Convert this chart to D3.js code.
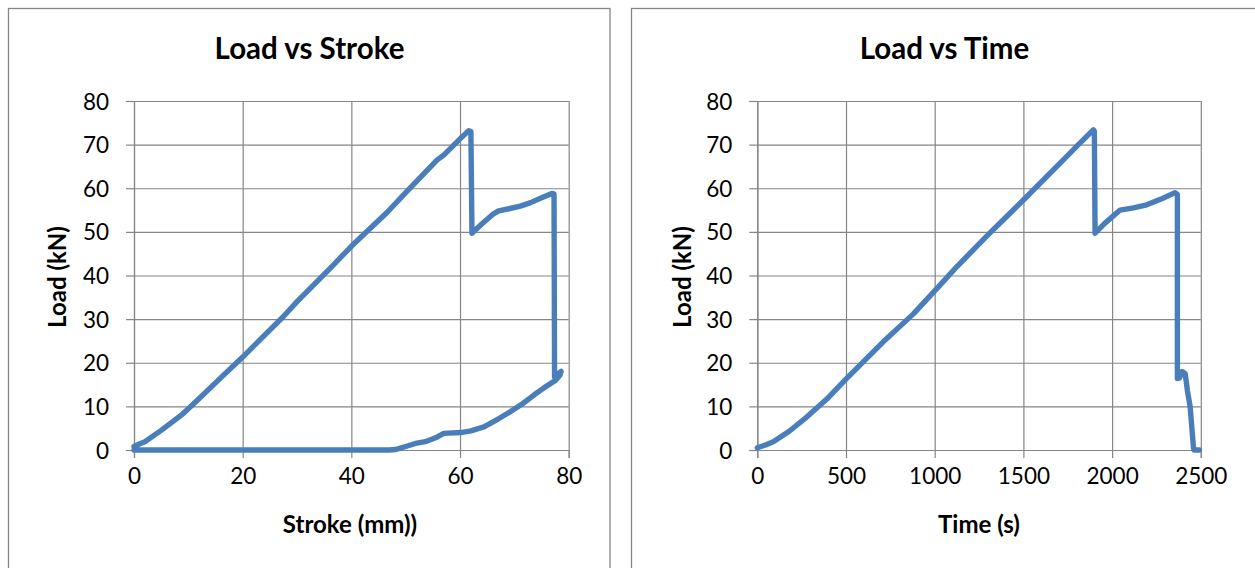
<!DOCTYPE html>
<html>
<head>
<meta charset="utf-8">
<script src="https://cdn.jsdelivr.net/npm/d3@7"></script>
<style>
  html, body { margin: 0; padding: 0; background: #fff; }
  svg { display: block; }
  text { font-family: Lato, "Open Sans", "Liberation Sans", sans-serif; fill: #000; }
</style>
</head>
<body>
<svg id="chart" width="1255" height="568"></svg>
<script>
// ---- Load vs Stroke test record ----
const strokeMm = [0, 1.2, 2, 5, 9, 12, 16, 20, 27.5, 30, 36, 40, 46.6, 50, 55.8, 57, 60, 61.6, 62.0,
  62.2, 64, 66, 67.1, 69, 71.1, 73, 74.8, 76.9, 77.3,
  77.4, 77.9, 78.6, 78.4, 77.6, 75.5, 73.6, 71.5, 69.3, 67, 64.4, 62, 60.1, 57, 55.5, 53.6, 51.8, 50, 48.1, 47, 30, 0];
const strokeLoad = [0.8, 1.5, 1.9, 4.5, 8.3, 11.8, 16.6, 21.3, 30.6, 34, 41.5, 46.7, 54.5, 59, 66.5, 67.6, 71.3, 73.2, 73.0,
  49.7, 51.8, 54.0, 54.8, 55.3, 55.9, 56.7, 57.7, 58.8, 58.7,
  16.8, 17.3, 18.0, 17.2, 16.0, 14.3, 12.6, 10.6, 8.8, 7.1, 5.3, 4.4, 4.0, 3.8, 2.8, 1.9, 1.5, 0.8, 0.1, 0, 0, 0];

// ---- Load vs Time test record ----
const timeS = [0, 50, 90, 180, 280, 400, 504, 710, 880, 1030, 1124, 1300, 1500, 1725, 1800, 1894, 1900,
  1904, 1960, 2045, 2120, 2195, 2280, 2355, 2368,
  2368, 2380, 2395, 2412, 2425, 2440, 2459, 2462, 2492];
const timeLoad = [0.5, 1.2, 1.9, 4.3, 7.6, 12, 16.4, 24.8, 31.2, 37.8, 42, 49.3, 57.3, 66.5, 69.6, 73.4, 73.1,
  49.7, 52, 55, 55.5, 56.2, 57.6, 59, 58.6,
  16.4, 16.5, 18, 17.5, 13.5, 9.9, 0.4, 0, 0];

// ---- Axis ticks ----
const loadTicks = [0, 10, 20, 30, 40, 50, 60, 70, 80];
const strokeTicks = [0, 20, 40, 60, 80];
const timeTicks = [0, 500, 1000, 1500, 2000, 2500];

const GRID = "#868686";
const LINE = "#4a7ebb";
const svg = d3.select("#chart");

function drawPanel(opt) {
  const g = svg.append("g");

  // chart frame
  g.append("rect")
    .attr("x", opt.frame[0]).attr("y", opt.frame[1])
    .attr("width", opt.frame[2]).attr("height", opt.frame[3])
    .attr("fill", "#fff").attr("stroke", GRID).attr("stroke-width", 1.3);

  const x = d3.scaleLinear().domain(opt.xDomain).range([opt.left, opt.right]);
  const y = d3.scaleLinear().domain([0, 80]).range([opt.bottom, opt.top]);

  // horizontal gridlines
  const gy = g.append("g").attr("transform", `translate(${opt.left},0)`)
    .call(d3.axisLeft(y).tickValues(loadTicks).tickSize(-(opt.right - opt.left)).tickFormat(""));
  gy.select(".domain").remove();
  gy.selectAll(".tick line").attr("stroke", GRID).attr("stroke-width", 1.2);

  // vertical gridlines
  const gx = g.append("g").attr("transform", `translate(0,${opt.top})`)
    .call(d3.axisBottom(x).tickValues(opt.xTicks).tickSize(opt.bottom - opt.top).tickFormat(""));
  gx.select(".domain").remove();
  gx.selectAll(".tick line").attr("stroke", GRID).attr("stroke-width", 1.2);

  // y axis with outward ticks and labels
  const ay = g.append("g").attr("transform", `translate(${opt.left},0)`)
    .call(d3.axisLeft(y).tickValues(loadTicks).tickSize(8).tickPadding(17).tickFormat(d3.format("d")));
  ay.select(".domain").attr("stroke", GRID).attr("stroke-width", 1.2);
  ay.selectAll(".tick line").attr("stroke", GRID).attr("stroke-width", 1.2);
  ay.selectAll(".tick text").attr("font-size", 22.5).attr("font-family", null).attr("dy", "0.36em");

  // x axis with outward ticks and labels
  const ax = g.append("g").attr("transform", `translate(0,${opt.bottom})`)
    .call(d3.axisBottom(x).tickValues(opt.xTicks).tickSize(8).tickPadding(10).tickFormat(d3.format("d")));
  ax.select(".domain").attr("stroke", GRID).attr("stroke-width", 1.2);
  ax.selectAll(".tick line").attr("stroke", GRID).attr("stroke-width", 1.2);
  ax.selectAll(".tick text").attr("font-size", 22.5).attr("font-family", null).attr("dy", "0.71em");

  // data line
  const pts = opt.xs.map((v, i) => [v, opt.ys[i]]);
  g.append("path")
    .datum(pts)
    .attr("fill", "none")
    .attr("stroke", LINE)
    .attr("stroke-width", 5.4)
    .attr("stroke-linejoin", "round")
    .attr("stroke-linecap", "round")
    .attr("d", d3.line().x(d => x(d[0])).y(d => y(d[1])));

  // titles
  g.append("text").attr("x", opt.titleX).attr("y", 59)
    .attr("text-anchor", "middle").attr("font-weight", "bold").attr("font-size", 29.5)
    .text(opt.title);
  g.append("text").attr("x", opt.xTitleX).attr("y", 533)
    .attr("text-anchor", "middle").attr("font-weight", "bold").attr("font-size", 24)
    .text(opt.xTitle);
  g.append("text")
    .attr("transform", `translate(${opt.yTitleX},277) rotate(-90)`)
    .attr("text-anchor", "middle").attr("font-weight", "bold").attr("font-size", 24)
    .text("Load (kN)");
}

drawPanel({
  frame: [8.5, 8.5, 601.5, 600],
  left: 134, right: 568.7, top: 101, bottom: 450,
  xDomain: [0, 80], xTicks: strokeTicks,
  xs: strokeMm, ys: strokeLoad,
  title: "Load vs Stroke", titleX: 309.5,
  xTitle: "Stroke (mm))", xTitleX: 350,
  yTitleX: 66
});

drawPanel({
  frame: [631.5, 8.5, 640, 600],
  left: 757.3, right: 1200.8, top: 101, bottom: 450,
  xDomain: [0, 2500], xTicks: timeTicks,
  xs: timeS, ys: timeLoad,
  title: "Load vs Time", titleX: 944.5,
  xTitle: "Time (s)", xTitleX: 979,
  yTitleX: 691
});
</script>
</body>
</html>
